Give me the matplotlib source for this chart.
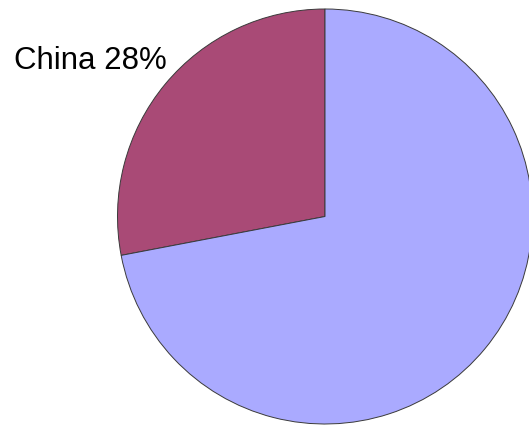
import matplotlib

matplotlib.use("Agg")
import matplotlib.pyplot as plt

labels = ["China", "Rest of world"]
shares = [28, 72]
colors = ["#a94a76", "#aaaaff"]

# pie centre and radius in pixels on a 529x426 canvas
width_px, height_px = 529, 426
cx, cy, radius = 325.0, 216.5, 207.5

fig = plt.figure(figsize=(width_px / 100, height_px / 100), dpi=100)
ax = fig.add_axes([0, 0, 1, 1])
ax.pie(
    shares,
    colors=colors,
    startangle=90,
    counterclock=True,
    radius=1.0,
    wedgeprops={"edgecolor": "#3a3a3a", "linewidth": 0.7},
)
ax.set_xlim(-cx / radius, (width_px - cx) / radius)
ax.set_ylim(-(height_px - cy) / radius, cy / radius)
ax.set_aspect("equal")
ax.axis("off")

ax.text(
    (167 - cx) / radius,
    (cy - 69) / radius,
    f"{labels[0]} {shares[0]}%",
    ha="right",
    va="baseline",
    fontsize=22.5,
    family="Liberation Sans",
    color="black",
)

fig.savefig("out.png", dpi=100)
